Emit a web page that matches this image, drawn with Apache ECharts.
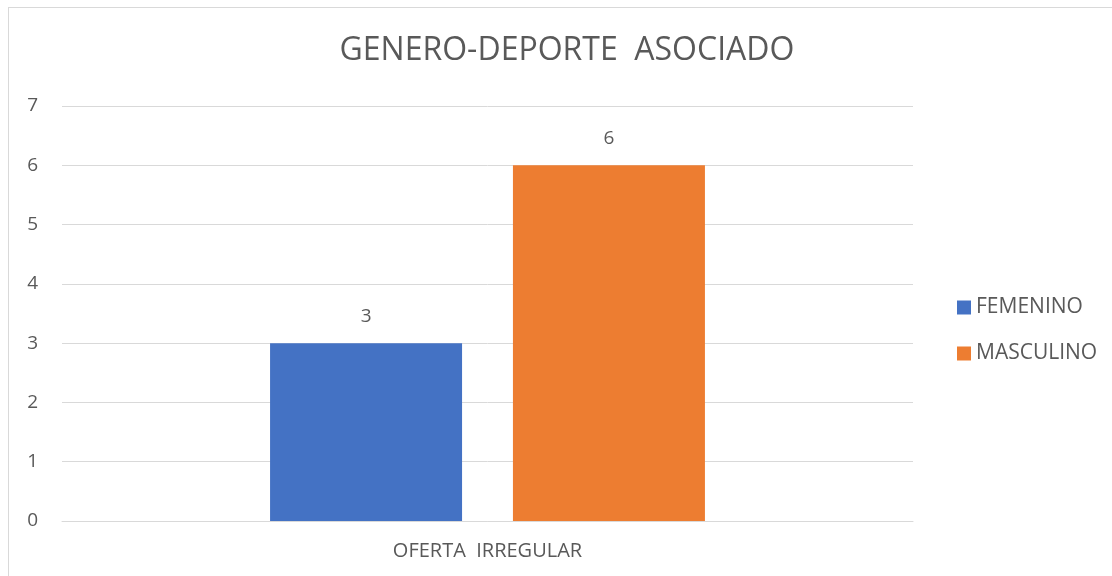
<!DOCTYPE html>
<html>
<head>
<meta charset="utf-8">
<script src="https://cdn.jsdelivr.net/npm/echarts@6/dist/echarts.min.js"></script>
<style>
  html, body { margin: 0; padding: 0; background: #fff; }
  #frame { position: absolute; left: 8px; top: 7px; width: 1120px; height: 600px; border: 1px solid #d9d9d9; box-sizing: border-box; }
  #chart { position: absolute; left: 0; top: 0; width: 1112px; height: 576px; }
</style>
</head>
<body>
<div id="frame"></div>
<div id="chart"></div>
<script>
  // datos
  const categorias = ["OFERTA  IRREGULAR"];
  const femenino = [3];
  const masculino = [6];
  const yTicks = { min: 0, max: 7, interval: 1 };

  const textColor = "#595959";
  const fontFam = "'Open Sans', sans-serif";

  const chart = echarts.init(document.getElementById("chart"));
  const option = {
    animation: false,
    title: {
      text: "GENERO-DEPORTE  ASOCIADO",
      left: 562,
      top: 30,
      textAlign: "center",
      textStyle: { color: textColor, fontFamily: fontFam, fontWeight: "normal", fontSize: 32 }
    },
    legend: {
      orient: "vertical",
      left: 952,
      top: 292,
      itemWidth: 14,
      itemHeight: 14,
      itemGap: 25,
      icon: "rect",
      textStyle: { color: textColor, fontFamily: fontFam, fontSize: 21, padding: [0, 0, 0, 0] },
      data: ["FEMENINO", "MASCULINO"]
    },
    grid: { left: 62, right: 199, top: 106, bottom: 55 },
    xAxis: {
      type: "category",
      data: categorias,
      axisLine: { lineStyle: { color: "#d9d9d9", width: 1 } },
      axisTick: { show: false },
      axisLabel: { color: textColor, fontFamily: fontFam, fontSize: 20, margin: 20 }
    },
    yAxis: {
      type: "value",
      min: yTicks.min,
      max: yTicks.max,
      interval: yTicks.interval,
      axisLine: { show: false },
      axisTick: { show: false },
      splitLine: { lineStyle: { color: "#d9d9d9", width: 1 } },
      axisLabel: { color: textColor, fontFamily: fontFam, fontSize: 19, margin: 24 }
    },
    series: [
      {
        name: "FEMENINO",
        type: "bar",
        data: femenino,
        barWidth: 192,
        barGap: "26.5%",
        itemStyle: { color: "#4472c4" },
        label: { show: true, position: "top", distance: 17, color: textColor, fontFamily: fontFam, fontSize: 19 }
      },
      {
        name: "MASCULINO",
        type: "bar",
        data: masculino,
        barWidth: 192,
        barGap: "26.5%",
        itemStyle: { color: "#ed7d31" },
        label: { show: true, position: "top", distance: 17, color: textColor, fontFamily: fontFam, fontSize: 19 }
      }
    ]
  };
  chart.setOption(option);
</script>
</body>
</html>
